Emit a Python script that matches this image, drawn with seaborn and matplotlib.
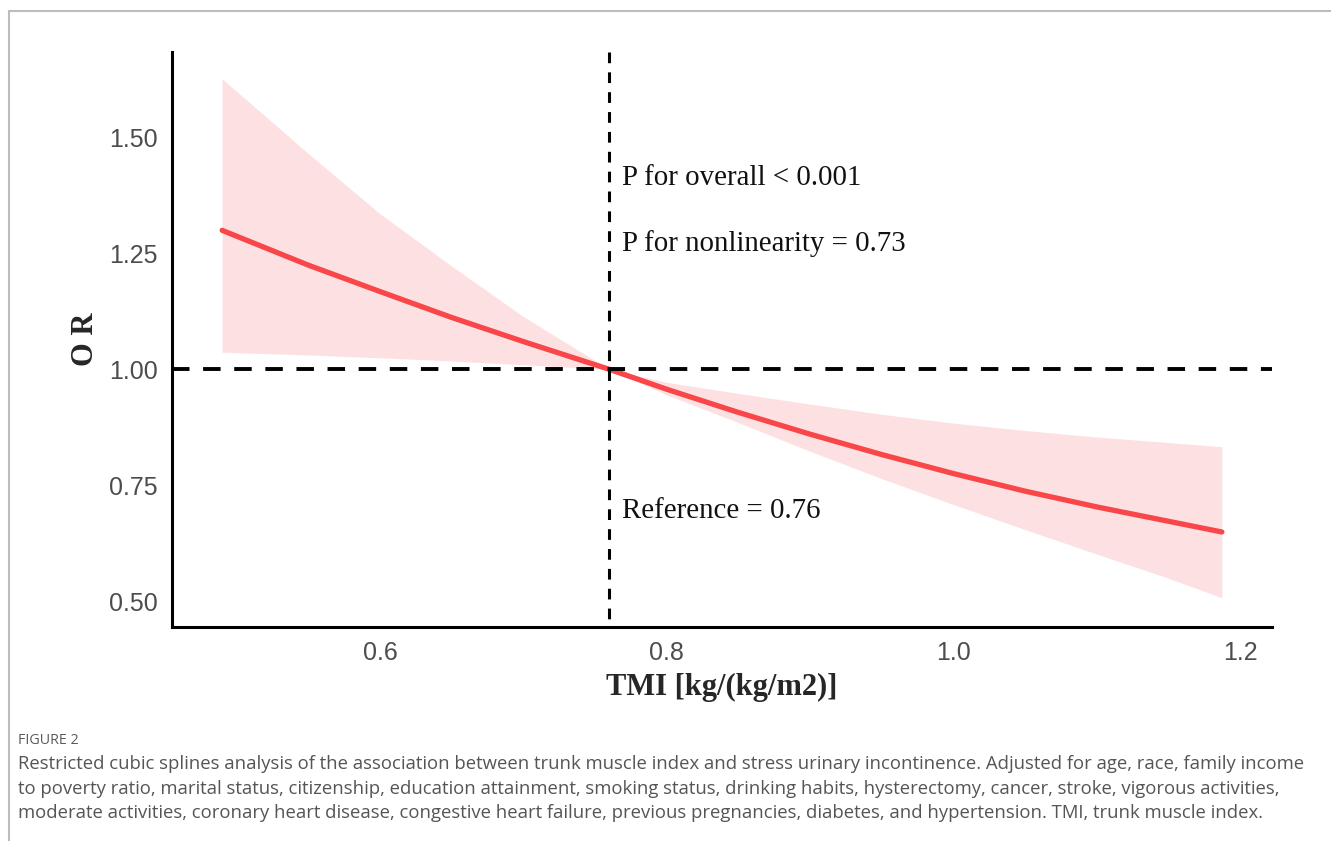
"""
Restricted cubic spline: OR of stress urinary incontinence by TMI
"""

import pandas as pd
import seaborn as sns
import matplotlib.pyplot as plt
from matplotlib.lines import Line2D

# values
tmi = [0.49, 0.55, 0.60, 0.65, 0.70, 0.76, 0.80, 0.85, 0.90, 0.95,
       1.00, 1.05, 1.10, 1.15, 1.187]
odds_ratio = [1.30, 1.225, 1.168, 1.112, 1.06, 1.00, 0.957, 0.907, 0.860, 0.816,
              0.775, 0.737, 0.703, 0.672, 0.649]
ci_upper = [1.627, 1.466, 1.336, 1.223, 1.114, 1.00, 0.972, 0.948, 0.925, 0.903,
            0.884, 0.868, 0.854, 0.842, 0.833]
ci_lower = [1.037, 1.031, 1.025, 1.018, 1.01, 1.00, 0.945, 0.885, 0.823, 0.764,
            0.708, 0.654, 0.601, 0.549, 0.507]

ref_tmi = 0.76
x_ticks = [0.6, 0.8, 1.0, 1.2]
y_ticks = [0.50, 0.75, 1.00, 1.25, 1.50]
annotations = ["P for overall < 0.001", "P for nonlinearity = 0.73", "Reference = 0.76"]
annot_y = [1.412, 1.272, 0.694]

caption_title = "FIGURE 2"
caption_lines = [
    "Restricted cubic splines analysis of the association between trunk muscle index and stress urinary incontinence. Adjusted for age, race, family income",
    "to poverty ratio, marital status, citizenship, education attainment, smoking status, drinking habits, hysterectomy, cancer, stroke, vigorous activities,",
    "moderate activities, coronary heart disease, congestive heart failure, previous pregnancies, diabetes, and hypertension. TMI, trunk muscle index.",
]

df = pd.DataFrame({"tmi": tmi, "OR": odds_ratio, "lo": ci_lower, "hi": ci_upper})

sns.set_style("white")
serif = ["Liberation Serif", "DejaVu Serif"]
sans = ["Liberation Sans", "DejaVu Sans"]
cap_font = ["Open Sans", "DejaVu Sans"]

fig = plt.figure(figsize=(13.31, 8.41), dpi=100)
ax = fig.add_axes([0.1292, 0.2545, 0.8265, 0.6837])

xmin, xmax = 0.455, 1.222
ymin, ymax = 0.444, 1.685

ax.fill_between(df["tmi"], df["lo"], df["hi"], color="#FDE1E2", lw=0)
sns.lineplot(data=df, x="tmi", y="OR", color="#F94649", lw=3.8, ax=ax)

# reference lines
ax.plot([xmin, xmax], [1.0, 1.0], color="black", lw=2.8, ls=(0, (4.5, 3.5)))
ax.plot([ref_tmi, ref_tmi], [ymax, ymin], color="black", lw=2.2, ls=(0, (3.5, 3)))

ax.set_xlim(xmin, xmax)
ax.set_ylim(ymin, ymax)
ax.set_xticks(x_ticks)
ax.set_xticklabels([f"{v:.1f}" for v in x_ticks])
ax.set_yticks(y_ticks)
ax.set_yticklabels([f"{v:.2f}" for v in y_ticks])

for lab in ax.get_xticklabels() + ax.get_yticklabels():
    lab.set_family(sans)
    lab.set_fontsize(18)
    lab.set_color("#4D4D4D")

ax.tick_params(axis="both", direction="out", length=6, width=2, color="#333333", pad=4)

sns.despine(ax=ax)
for side in ["left", "bottom"]:
    ax.spines[side].set_linewidth(2.2)
    ax.spines[side].set_color("black")

ax.set_xlabel("TMI [kg/(kg/m2)]", family=serif, fontsize=22, fontweight="bold", labelpad=6)
ax.set_ylabel("O R", family=serif, fontsize=22, fontweight="bold", labelpad=7)

for txt, yv in zip(annotations, annot_y):
    ax.text(ref_tmi + 0.009, yv, txt, family=serif, fontsize=20.8, va="center", ha="left", color="#111111")

# figure frame (top and left rule)
fig.add_artist(Line2D([9 / 1331, 1], [1 - 11 / 841, 1 - 11 / 841], color="#BDBDBD", lw=1.5))
fig.add_artist(Line2D([9 / 1331, 9 / 1331], [0, 1 - 11 / 841], color="#BDBDBD", lw=1.5))

fig.text(18 / 1331, 1 - 741 / 841, caption_title, family=cap_font,
         fontsize=10.3, color="#5A5A5A", va="center")
for i, line in enumerate(caption_lines):
    fig.text(18 / 1331, 1 - (764 + 24.5 * i) / 841, line, family=cap_font,
             fontsize=13.3, color="#555555", va="center")

fig.savefig("out.png", dpi=100)
